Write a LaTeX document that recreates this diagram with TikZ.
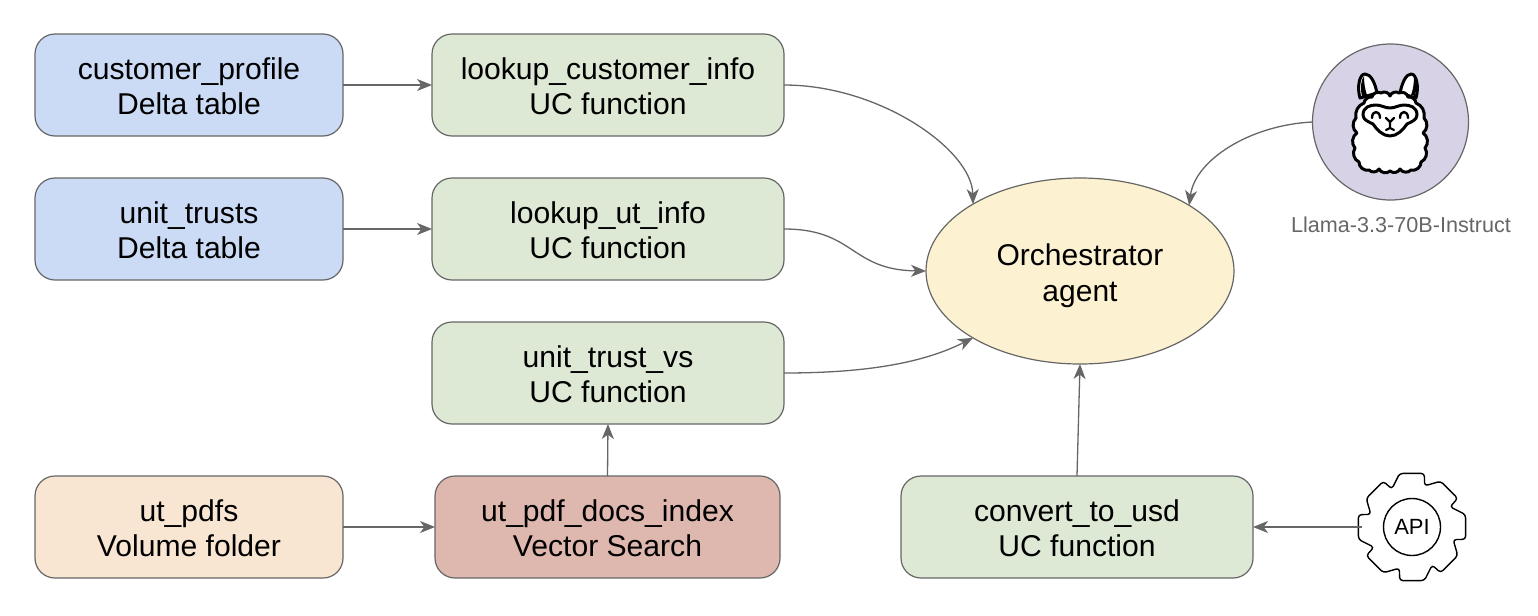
\documentclass[tikz,border=0pt]{standalone}
\usepackage{fontspec}
\setmainfont{Liberation Sans}
\usetikzlibrary{arrows.meta,shapes.geometric}
\definecolor{edge}{HTML}{666666}
\definecolor{bluefill}{HTML}{CBDAF5}
\definecolor{greenfill}{HTML}{DDE8D5}
\definecolor{orangefill}{HTML}{F8E6D3}
\definecolor{redfill}{HTML}{DEB8AE}
\definecolor{yellowfill}{HTML}{FCF1D0}
\definecolor{purplefill}{HTML}{D8D2E7}
\newcommand{\lowerbox}{\rule{0pt}{12.6pt}}
\newcommand{\lowerell}{\rule{0pt}{15.6pt}}
\tikzset{
  box/.style={draw=edge,line width=0.6pt,rounded corners=10pt,minimum height=51pt,
    align=center,inner sep=0pt,outer sep=0pt,font=\fontsize{15.05}{17.5}\selectfont},
  tablebox/.style={box,fill=bluefill,minimum width=154pt},
  funcbox/.style={box,fill=greenfill,minimum width=176pt},
  link/.style={draw=edge,line width=0.65pt,-{Stealth[length=7.5pt,width=6pt,inset=2.2pt]}},
  llamaline/.style={draw=black,line width=1.5pt,line join=round,line cap=round},
}
\begin{document}
\begin{tikzpicture}[x=0.5pt,y=-0.5pt]
\useasboundingbox (0,0) rectangle (1538,616);
\node[tablebox] (cp) at (189,85) {\lowerbox customer\_profile\\Delta table};
\node[tablebox] (ut) at (189,229) {\lowerbox unit\_trusts\\Delta table};
\node[box,fill=orangefill,minimum width=154pt] (pdf) at (189,527) {\lowerbox ut\_pdfs\\Volume folder};
\node[funcbox] (lci) at (608,85) {\lowerbox lookup\_customer\_info\\UC function};
\node[funcbox] (lui) at (608,229) {\lowerbox lookup\_ut\_info\\UC function};
\node[funcbox] (vs) at (608,373) {\lowerbox unit\_trust\_vs\\UC function};
\node[box,fill=redfill,minimum width=172.5pt] (idx) at (607.5,527) {\lowerbox ut\_pdf\_docs\_index\\Vector Search};
\node[funcbox] (usd) at (1077,527) {\lowerbox convert\_to\_usd\\UC function};
\node[ellipse,draw=edge,fill=yellowfill,line width=0.6pt,minimum width=154pt,minimum height=93pt,
  inner sep=0pt,outer sep=0pt,align=center,font=\fontsize{15}{18}\selectfont] (orch) at (1080,271) {\lowerell Orchestrator\\agent};
\node[circle,draw=edge,fill=purplefill,line width=0.6pt,minimum size=78pt,inner sep=0pt,outer sep=0pt] (llm) at (1390.5,122) {};
\node[text=edge,font=\fontsize{10.8}{13}\selectfont,inner sep=0pt] (llmlabel) at (1401,225) {Llama-3.3-70B-Instruct};
% llama
\draw[llamaline,fill=white] (1360,98) .. controls (1357,88) and (1359,74) .. (1365,74) .. controls (1371,74) and (1375,83) .. (1377,93) -- cycle;
\draw[llamaline,fill=white] (1400,93) .. controls (1402,83) and (1406,74) .. (1411,74) .. controls (1417,74) and (1419,88) .. (1416,98) -- cycle;
\fill (1362,96) .. controls (1360,88) and (1361,80) .. (1364,76) .. controls (1364,82) and (1365,90) .. (1367,95) -- cycle;
\fill (1415,96) .. controls (1417,88) and (1416,80) .. (1414,76) .. controls (1414,84) and (1413,90) .. (1411,95) -- cycle;
\draw[llamaline,fill=white] (1372,97) to[bend left=55] (1381,93) to[bend left=55] (1390,96)
  to[bend left=55] (1399,93) to[bend left=55] (1408,97) to[bend left=45] (1416,103)
  to[bend left=40] (1424,118) to[bend left=50] (1423,133) to[bend left=50] (1425,148)
  to[bend left=50] (1421,162) to[bend left=55] (1411,170) to[bend left=55] (1400,169)
  to[bend left=55] (1390,171) to[bend left=55] (1379,169) to[bend left=55] (1369,170)
  to[bend left=55] (1359,162) to[bend left=50] (1355,148) to[bend left=50] (1357,133)
  to[bend left=50] (1356,118) to[bend left=40] (1364,103) to[bend left=45] cycle;
\draw[llamaline,fill=white] (1363,115) .. controls (1363,107) and (1370,105) .. (1376,105)
  .. controls (1381,105) and (1385,108) .. (1390,108) .. controls (1395,108) and (1399,105) .. (1404,105)
  .. controls (1410,105) and (1417,107) .. (1417,115) .. controls (1417,120) and (1411,122) .. (1407,124)
  .. controls (1403,130) and (1397,136) .. (1390,136) .. controls (1383,136) and (1377,130) .. (1373,124)
  .. controls (1369,122) and (1363,120) .. (1363,115) -- cycle;
\draw[llamaline,line width=1.2pt] (1372,118) .. controls (1372,110) and (1380,110) .. (1380,118);
\draw[llamaline,line width=1.2pt] (1400,118) .. controls (1400,110) and (1408,110) .. (1408,118);
\draw[llamaline,line width=1.1pt] (1386,118) -- (1390,122) -- (1394,118) (1390,122) -- (1390,128) (1386,130) -- (1390,128) -- (1394,130);
% gear
\begin{scope}[shift={(1412,527)}]
\draw[line width=0.7pt,draw=black,rounded corners=1.6pt]
  (-13:55) -- (13:55) -- (17:43)
  -- (32:54) -- (58:54) -- (62:43)
  -- (77:55) -- (103:55) -- (107:43)
  -- (122:54) -- (148:54) -- (152:43)
  -- (167:55) -- (193:55) -- (197:43)
  -- (212:54) -- (238:54) -- (242:43)
  -- (257:55) -- (283:55) -- (287:43)
  -- (302:54) -- (328:54) -- (332:43) -- cycle;
\end{scope}
\node[circle,draw=black,line width=0.7pt,minimum size=28.5pt,inner sep=0pt,outer sep=0pt,font=\fontsize{11}{12}\selectfont] (api) at (1412,527) {API};
\node[circle,minimum size=50pt,inner sep=0pt,outer sep=0pt] (gear) at (1412,527) {};
% connectors
\draw[link] (cp.east) -- (lci.west);
\draw[link] (ut.east) -- (lui.west);
\draw[link] (pdf.east) -- (idx.west);
\draw[link] (idx.north) -- (vs.south);
\draw[link] (usd.north) -- (orch.south);
\draw[link] (gear.west) -- (usd.east);
\draw[link] (lci.east) .. controls (880,85) and (972,150) .. (orch.148.6);
\draw[link] (lui.east) .. controls (855,229) and (850,270) .. (orch.west);
\draw[link] (vs.east) .. controls (870,373) and (925,362) .. (orch.212.6);
\draw[link] (llm.west) .. controls (1250,125) and (1195,160) .. (orch.31.4);
\end{tikzpicture}
\end{document}
